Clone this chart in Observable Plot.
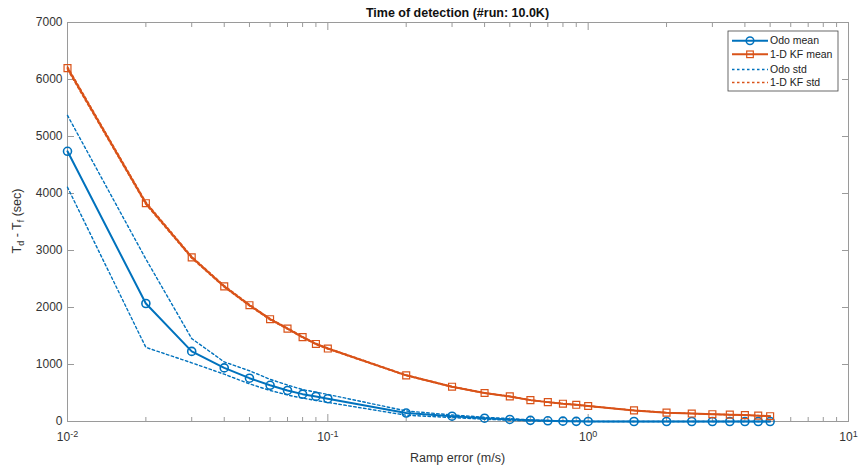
<!DOCTYPE html>
<html><head><meta charset="utf-8">
<script src="https://cdn.jsdelivr.net/npm/d3@7"></script>
<script src="https://cdn.jsdelivr.net/npm/@observablehq/plot@0.6"></script>
<style>
body{margin:0;background:#fff;font-family:"Liberation Sans",Arial,sans-serif}
#chart{width:858px;height:468px}
</style>
</head><body><div id="chart"></div>
<script>
// ---- data ----
const rampError = [0.01,0.02,0.03,0.04,0.05,0.06,0.07,0.08,0.09,0.1,0.2,0.3,0.4,0.5,0.6,0.7,0.8,0.9,1,1.5,2,2.5,3,3.5,4,4.5,5];
const odoMean  = [4740,2070,1230,940,760,635,545,480,440,400,148,93,58,36,20,12,6,3,1,0,0,0,0,0,0,0,0];
const odoUpper = [5370,2850,1455,1045,890,740,640,560,515,475,185,115,75,50,28,18,10,5,2,0,0,0,0,0,0,0,0];
const odoLower = [4110,1300,1030,830,660,545,465,410,370,335,110,70,40,22,12,6,2,1,0,0,0,0,0,0,0,0,0];
const kfMean   = [6200,3830,2880,2370,2040,1795,1630,1480,1360,1280,810,610,500,440,375,340,312,293,272,195,155,140,128,120,112,103,93];
const kfUpper  = [6225,3850,2895,2383,2052,1806,1640,1489,1369,1288,816,615,504,444,378,343,315,296,274,197,157,141,129,121,113,104,94];
const kfLower  = [6175,3810,2865,2357,2028,1784,1620,1471,1351,1272,804,605,496,436,372,337,309,290,270,193,153,139,127,119,111,102,92];

const majorTicks = [0.01,0.1,1,10];
const minorTicks = [0.02,0.03,0.04,0.05,0.06,0.07,0.08,0.09,0.2,0.3,0.4,0.5,0.6,0.7,0.8,0.9,2,3,4,5,6,7,8,9];
const yTicks = [0,1000,2000,3000,4000,5000,6000,7000];

const titleText = "Time of detection (#run: 10.0K)";
const xLabel = "Ramp error (m/s)";
const legendLabels = ["Odo mean","1-D KF mean","Odo std","1-D KF std"];

const BLUE = "#0072BD", ORANGE = "#D95319", AXIS = "#9a9a9a";

const data = rampError.map((x,i)=>({x, odoMean:odoMean[i], odoUpper:odoUpper[i], odoLower:odoLower[i],
  kfMean:kfMean[i], kfUpper:kfUpper[i], kfLower:kfLower[i]}));

const dash = "2.5,2.5";
const svg = Plot.plot({
  width: 858, height: 468,
  marginLeft: 67, marginRight: 10, marginTop: 22, marginBottom: 47,
  style: {fontFamily: '"Liberation Sans", Arial, sans-serif', fontSize: "12px", color: "#333", background: "#fff"},
  x: {type: "log", domain: [0.01, 10]},
  y: {domain: [0, 7000]},
  marks: [
    Plot.frame({stroke: AXIS}),
    // axes (ticks inward like MATLAB)
    Plot.axisX({ticks: majorTicks, tickSize: 0, tickPadding: 11, fontSize: 12, label: null,
      tickFormat: d => String(Math.round(Math.log10(d)))}),
    Plot.axisX({ticks: majorTicks, tickSize: -7, tickFormat: () => "", label: null, stroke: AXIS}),
    Plot.axisX({ticks: minorTicks, tickSize: -4, tickFormat: () => "", label: null, stroke: AXIS}),
    Plot.axisX({anchor: "top", ticks: majorTicks, tickSize: -7, tickFormat: () => "", label: null, stroke: AXIS}),
    Plot.axisX({anchor: "top", ticks: minorTicks, tickSize: -4, tickFormat: () => "", label: null, stroke: AXIS}),
    Plot.axisY({ticks: yTicks, tickSize: 0, tickPadding: 5, fontSize: 12, label: null, tickFormat: d3.format("d")}),
    Plot.axisY({ticks: yTicks, tickSize: -7, tickFormat: () => "", label: null, stroke: AXIS}),
    Plot.axisY({anchor: "right", ticks: yTicks, tickSize: -7, tickFormat: () => "", label: null, stroke: AXIS}),
    // means
    Plot.line(data, {x: "x", y: "odoMean", stroke: BLUE, strokeWidth: 2}),
    Plot.dot(data, {x: "x", y: "odoMean", r: 4, stroke: BLUE, fill: "none", strokeWidth: 1.6}),
    Plot.line(data, {x: "x", y: "kfMean", stroke: ORANGE, strokeWidth: 2}),
    Plot.dot(data, {x: "x", y: "kfMean", symbol: "square", r: 3.9, stroke: ORANGE, fill: "none", strokeWidth: 1.2}),
    // std
    Plot.line(data, {x: "x", y: "odoUpper", stroke: BLUE, strokeWidth: 1.4, strokeDasharray: dash}),
    Plot.line(data, {x: "x", y: "odoLower", stroke: BLUE, strokeWidth: 1.4, strokeDasharray: dash}),
    Plot.line(data, {x: "x", y: "kfUpper", stroke: ORANGE, strokeWidth: 1.4, strokeDasharray: dash}),
    Plot.line(data, {x: "x", y: "kfLower", stroke: ORANGE, strokeWidth: 1.4, strokeDasharray: dash})
  ]
});
document.getElementById("chart").appendChild(svg);

// superscript exponents on x tick labels
svg.querySelectorAll('g[aria-label="x-axis tick label"] text').forEach(t => {
  const e = t.textContent;
  if (e === "") return;
  t.textContent = "";
  const ns = "http://www.w3.org/2000/svg";
  const a = document.createElementNS(ns, "tspan"); a.textContent = "10"; t.appendChild(a);
  const b = document.createElementNS(ns, "tspan"); b.textContent = e.replace("\u2212","-");
  b.setAttribute("dy", "-0.45em"); b.setAttribute("font-size", "9"); t.appendChild(b);
});

const s = d3.select(svg);
// title
s.append("text").attr("x", 457.5).attr("y", 17).attr("text-anchor", "middle")
  .attr("font-weight", "bold").attr("font-size", 12.5).attr("fill", "#111").text(titleText);
// x label
s.append("text").attr("x", 457.5).attr("y", 462).attr("text-anchor", "middle")
  .attr("font-size", 12.5).attr("fill", "#333").text(xLabel);
// y label with subscripts
const yl = s.append("text").attr("transform", "translate(21,221) rotate(-90)")
  .attr("text-anchor", "middle").attr("font-size", 12.5).attr("fill", "#333");
yl.append("tspan").text("T");
yl.append("tspan").attr("dy", 3).attr("font-size", 9).text("d");
yl.append("tspan").attr("dy", -3).text(" - T");
yl.append("tspan").attr("dy", 3).attr("font-size", 9).text("f");
yl.append("tspan").attr("dy", -3).text(" (sec)");

// legend
const lg = s.append("g").attr("transform", "translate(728,31)");
lg.append("rect").attr("width", 110).attr("height", 60).attr("fill", "#fff").attr("stroke", "#444").attr("stroke-width", 0.8);
const rows = [
  {label: legendLabels[0], color: BLUE, dash: null, marker: "circle", y: 9.7},
  {label: legendLabels[1], color: ORANGE, dash: null, marker: "square", y: 23.3},
  {label: legendLabels[2], color: BLUE, dash: dash, marker: null, y: 38.5},
  {label: legendLabels[3], color: ORANGE, dash: dash, marker: null, y: 51.5}
];
rows.forEach(r => {
  const g = lg.append("g").attr("transform", `translate(0,${r.y})`);
  g.append("line").attr("x1", 4).attr("x2", 40).attr("stroke", r.color)
    .attr("stroke-width", r.dash ? 1.3 : 2).attr("stroke-dasharray", r.dash);
  if (r.marker === "circle") g.append("circle").attr("cx", 22).attr("r", 3.8).attr("fill", "none").attr("stroke", r.color).attr("stroke-width", 1.5);
  if (r.marker === "square") g.append("rect").attr("x", 18.7).attr("y", -3.3).attr("width", 6.6).attr("height", 6.6).attr("fill", "none").attr("stroke", r.color).attr("stroke-width", 1.2);
  g.append("text").attr("x", 42).attr("dy", "0.35em").attr("text-anchor", "start")
    .attr("font-size", 10.5).attr("fill", "#222").text(r.label);
});
</script>
</body></html>
